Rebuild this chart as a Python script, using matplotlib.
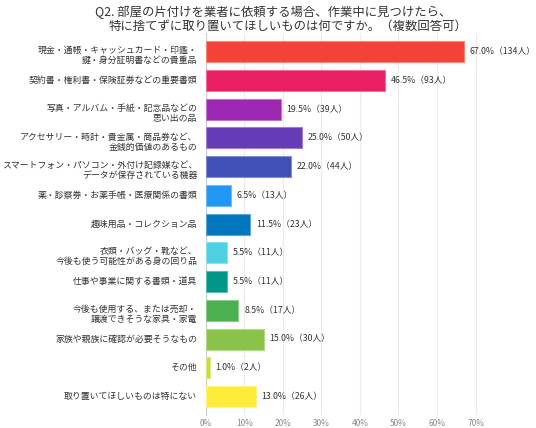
import matplotlib
matplotlib.use("Agg")
import matplotlib.pyplot as plt
import matplotlib.colors as mcolors
from matplotlib.transforms import offset_copy

plt.rcParams['font.family'] = ['Noto Sans CJK JP', 'DejaVu Sans']

categories = [
    "現金・通帳・キャッシュカード・印鑑・\n鍵・身分証明書などの貴重品",
    "契約書・権利書・保険証券などの重要書類",
    "写真・アルバム・手紙・記念品などの\n思い出の品",
    "アクセサリー・時計・貴金属・商品券など、\n金銭的価値のあるもの",
    "スマートフォン・パソコン・外付け記録媒など、\nデータが保存されている機器",
    "薬・診察券・お薬手帳・医療関係の書類",
    "趣味用品・コレクション品",
    "衣類・バッグ・靴など、\n今後も使う可能性がある身の回り品",
    "仕事や事業に関する書類・道具",
    "今後も使用する、または売却・\n譲渡できそうな家具・家電",
    "家族や親族に確認が必要そうなもの",
    "その他",
    "取り置いてほしいものは特にない",
]
percent = [67.0, 46.5, 19.5, 25.0, 22.0, 6.5, 11.5, 5.5, 5.5, 8.5, 15.0, 1.0, 13.0]
counts = [134, 93, 39, 50, 44, 13, 23, 11, 11, 17, 30, 2, 26]
colors = ["#F44336", "#E91E63", "#9C27B0", "#673AB7", "#3F51B5", "#2196F3",
          "#0277BD", "#4DD0E1", "#009688", "#4CAF50", "#8BC34A", "#CDDC39", "#FFEB3B"]
xticks = [0, 10, 20, 30, 40, 50, 60, 70]
title1 = "Q2. 部屋の片付けを業者に依頼する場合、作業中に見つけたら、"
title2 = "特に捨てずに取り置いてほしいものは何ですか。（複数回答可）"


def lighten(c, amt=0.35):
    r, g, b = mcolors.to_rgb(c)
    return (r + (1 - r) * amt, g + (1 - g) * amt, b + (1 - b) * amt)


fig = plt.figure(figsize=(5.36, 4.28), dpi=100)
ax = fig.add_axes([0.3838, 0.0304, 0.5178, 0.8916])
y = list(range(len(categories)))
ax.barh(y, percent, height=0.73, color=colors,
        edgecolor=[lighten(c) for c in colors], linewidth=0.8, zorder=3)
for yi, p, c in zip(y, percent, counts):
    ax.text(p + 1.5, yi, f"{p:.1f}%（{c}人）", va='center', ha='left',
            fontsize=6.3, color='#333333')

ytrans = ax.get_yaxis_transform()
for yi, cat in zip(y, categories):
    dy = -4.0 if "\n" in cat else 0.0
    tr = offset_copy(ytrans, fig=fig, x=-8.5, y=dy, units='dots')
    ax.text(0, yi, cat, transform=tr, ha='right', va='center', ma='right',
            fontsize=6.4, color='#333333', linespacing=1.15)

ax.set_yticks(y)
ax.set_yticklabels([])
ax.set_ylim(len(categories) - 1 + 0.64, -0.64)
ax.set_xlim(0, 72)
ax.set_xticks(xticks)
ax.set_xticklabels([f"{t}%" for t in xticks], fontsize=6, color='#888888')
ax.grid(axis='x', color='#ebebeb', linewidth=0.8, zorder=0)
for s in ['top', 'right', 'bottom']:
    ax.spines[s].set_visible(False)
ax.spines['left'].set_color('#cccccc')
ax.tick_params(axis='y', length=0)
ax.tick_params(axis='x', length=0, pad=3)
fig.text(95 / 536, 1 - 12 / 428, title1, ha='left', va='center', fontsize=8.9, color='#333333')
fig.text(109 / 536, 1 - 26 / 428, title2, ha='left', va='center', fontsize=8.9, color='#333333')
fig.savefig("out.png", dpi=100)
